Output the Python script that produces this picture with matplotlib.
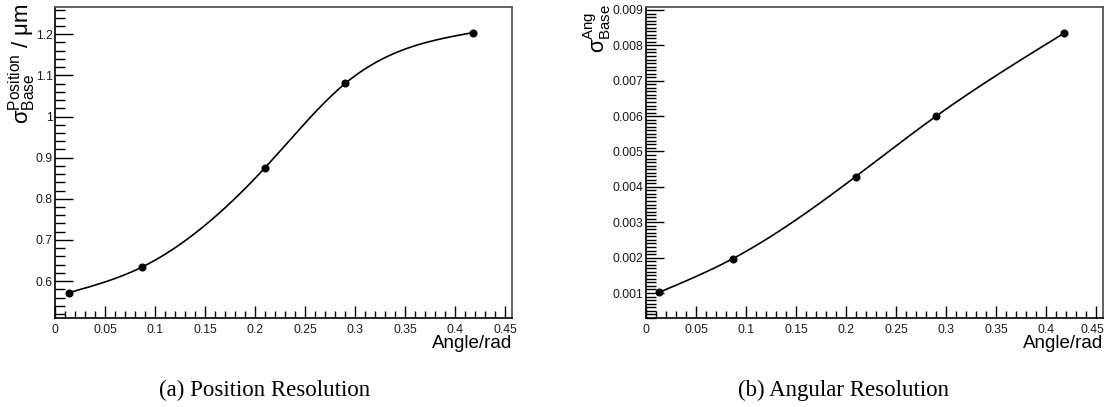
import numpy as np
import matplotlib
matplotlib.use("Agg")
import matplotlib.pyplot as plt
from matplotlib.ticker import MultipleLocator, FuncFormatter
from matplotlib.transforms import ScaledTranslation

# ---- data ----
angle = [0.0133, 0.0867, 0.2095, 0.2900, 0.4175]
pos_res = [0.5716, 0.634, 0.875, 1.0806, 1.204]
ang_res = [0.00102, 0.00197, 0.00429, 0.0060, 0.00834]

plt.rcParams['font.family'] = ['Liberation Sans', 'DejaVu Sans']
plt.rcParams['mathtext.fontset'] = 'custom'
plt.rcParams['mathtext.rm'] = 'Liberation Sans'
plt.rcParams['mathtext.it'] = 'Liberation Sans:italic'
plt.rcParams['mathtext.sf'] = 'Liberation Sans'


def natural_spline(x, y, n=300):
    x = np.asarray(x, float); y = np.asarray(y, float)
    k = len(x); h = np.diff(x)
    A = np.zeros((k, k)); b = np.zeros(k)
    A[0, 0] = 1; A[-1, -1] = 1
    for i in range(1, k - 1):
        A[i, i - 1] = h[i - 1]; A[i, i] = 2 * (h[i - 1] + h[i]); A[i, i + 1] = h[i]
        b[i] = 3 * ((y[i + 1] - y[i]) / h[i] - (y[i] - y[i - 1]) / h[i - 1])
    c = np.linalg.solve(A, b)
    xs = np.linspace(x[0], x[-1], n)
    ys = np.empty_like(xs)
    for j, xv in enumerate(xs):
        i = min(np.searchsorted(x, xv, side='right') - 1, k - 2)
        dx = xv - x[i]
        bi = (y[i + 1] - y[i]) / h[i] - h[i] * (2 * c[i] + c[i + 1]) / 3
        di = (c[i + 1] - c[i]) / (3 * h[i])
        ys[j] = y[i] + bi * dx + c[i] * dx ** 2 + di * dx ** 3
    return xs, ys


W, H = 1104, 407
fig = plt.figure(figsize=(W / 100, H / 100), dpi=100)


def make_ax(left, right, top, bottom):
    return fig.add_axes([left / W, 1 - bottom / H, (right - left) / W, (bottom - top) / H])


def style(ax, ymaj, ymin, fmt):
    ax.set_xlim(0, 0.457)
    ax.xaxis.set_major_locator(MultipleLocator(0.05))
    ax.xaxis.set_minor_locator(MultipleLocator(0.01))
    ax.yaxis.set_major_locator(MultipleLocator(ymaj))
    ax.yaxis.set_minor_locator(MultipleLocator(ymin))
    ax.xaxis.set_major_formatter(FuncFormatter(lambda v, p: ('%g' % round(v, 4))))
    ax.yaxis.set_major_formatter(FuncFormatter(fmt))
    ax.tick_params(axis='both', which='both', direction='in', top=False, right=False,
                   labelsize=8.8, width=1.0, color='black', labelcolor='#1a1a1a')
    ax.tick_params(axis='y', which='major', length=13, pad=2)
    ax.tick_params(axis='y', which='minor', length=7)
    ax.tick_params(axis='x', which='major', length=9, pad=4)
    ax.tick_params(axis='x', which='minor', length=5)
    for s in ['left', 'bottom']:
        ax.spines[s].set_color('black'); ax.spines[s].set_linewidth(1.2)
    for s in ['top', 'right']:
        ax.spines[s].set_color('#555555'); ax.spines[s].set_linewidth(1.3)


ax1 = make_ax(55.3, 512.3, 6.7, 318.3)
xs, ys = natural_spline(angle, pos_res)
ax1.plot(xs, ys, color='black', lw=1.2)
ax1.plot(angle, pos_res, 'o', color='black', ms=4.8)
ax1.set_ylim(0.5095, 1.267)
style(ax1, 0.1, 0.02, lambda v, p: '%g' % round(v, 3))

ax2 = make_ax(646, 1103.3, 6.7, 318.3)
xs, ys = natural_spline(angle, ang_res)
ax2.plot(xs, ys, color='black', lw=1.2)
ax2.plot(angle, ang_res, 'o', color='black', ms=4.8)
ax2.set_ylim(0.000285, 0.009093)
style(ax2, 0.001, 0.0001, lambda v, p: ('%.3f' % v))

# axis titles
fig.text(512.3 / W, 1 - 343 / H, 'Angle/rad', ha='right', va='center', fontsize=13.5)
fig.text(1103.3 / W, 1 - 343 / H, 'Angle/rad', ha='right', va='center', fontsize=13.5)
fig.text(22 / W, 1 - 4 / H, r'$\mathrm{σ}^{\mathrm{Position}}_{\mathrm{Base}}$ / μm',
         rotation=90, ha='center', va='top', fontsize=16)
fig.text(597 / W, 1 - 4 / H, r'$\mathrm{σ}^{\mathrm{Ang}}_{\mathrm{Base}}$',
         rotation=90, ha='center', va='top', fontsize=15.5)

# captions
fig.text(265 / W, 1 - 390 / H, '(a) Position Resolution', ha='center', va='center',
         fontsize=16.5, family=['Liberation Serif', 'DejaVu Serif'])
fig.text(844 / W, 1 - 390 / H, '(b) Angular Resolution', ha='center', va='center',
         fontsize=16.5, family=['Liberation Serif', 'DejaVu Serif'])

# nudge the last x tick label of the right panel so it stays inside the figure
fig.canvas.draw()
for tk in ax2.xaxis.get_major_ticks():
    if abs(tk.get_loc() - 0.45) < 1e-6:
        lab = tk.label1
        lab.set_transform(lab.get_transform() + ScaledTranslation(-4 / 100, 0, fig.dpi_scale_trans))

fig.savefig('out.png', dpi=100)
